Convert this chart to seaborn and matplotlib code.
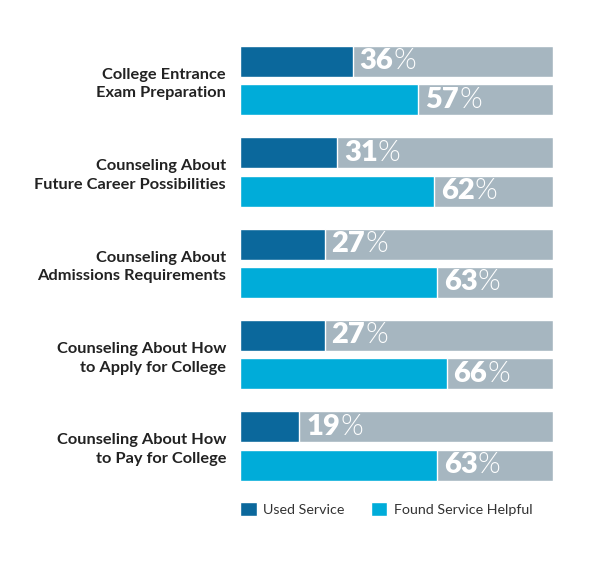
import seaborn as sns
from matplotlib import pyplot as plt
import pandas as pd

# data
categories = ['College Entrance\nExam Preparation',
              'Counseling About\nFuture Career Possibilities',
              'Counseling About\nAdmissions Requirements',
              'Counseling About How\nto Apply for College',
              'Counseling About How\nto Pay for College']
used_service = [36, 31, 27, 27, 19]
found_helpful = [57, 62, 63, 66, 63]
series = ['Used Service', 'Found Service Helpful']

df = pd.DataFrame({
    'category': categories * 2,
    'service': [series[0]] * 5 + [series[1]] * 5,
    'value': used_service + found_helpful,
})
bg = df.assign(value=100)

dark_blue = '#0b689c'
light_blue = '#00acd9'
grey = '#a6b6c0'

sns.set_style('white')
plt.rcParams['font.family'] = ['Lato', 'DejaVu Sans']

fig = plt.figure(figsize=(6.15, 5.75), dpi=100)
ax = fig.add_axes([240 / 615, 0.1449, 313 / 615, 0.7946])

# grey 100% track behind each bar
sns.barplot(data=bg, x='value', y='category', hue='service', orient='h',
            palette=[grey, grey], saturation=1, width=0.84, gap=0.19,
            legend=False, ax=ax)
sns.barplot(data=df, x='value', y='category', hue='service', orient='h',
            palette=[dark_blue, light_blue], saturation=1, width=0.84, gap=0.19,
            ax=ax)

ax.set_xlim(0, 100)
ax.set_ylim(4.5, -0.5)
ax.set_xlabel('')
ax.set_ylabel('')
ax.set_xticks([])
sns.despine(ax=ax, left=True, bottom=True)
ax.tick_params(axis='y', length=0, pad=10)
for lbl in ax.get_yticklabels():
    lbl.set_fontsize(11.8)
    lbl.set_fontweight('bold')
    lbl.set_color('#222222')
    lbl.set_linespacing(1.4)

# value labels: bold number + light percent sign
for cont in ax.containers[2:]:
    for bar in cont:
        w = bar.get_width()
        yc = bar.get_y() + bar.get_height() / 2
        t = ax.text(w + 2.2, yc, f'{w:.0f}', color='white', fontsize=21,
                    fontweight='heavy', va='center', ha='left')
        ax.annotate('%', xy=(1, 0), xycoords=t, color='white', fontsize=21,
                    fontweight=300, va='bottom', ha='left')

handles, labels = ax.get_legend_handles_labels()
ax.legend(handles, labels, loc='upper left', bbox_to_anchor=(0, -0.022),
          ncol=2, frameon=False, fontsize=10.3, handlelength=1.16,
          handleheight=1.16, handletextpad=0.45, columnspacing=1.85,
          borderpad=0, borderaxespad=0, labelcolor='#333333')

fig.savefig('out.png', dpi=100, facecolor='white')
